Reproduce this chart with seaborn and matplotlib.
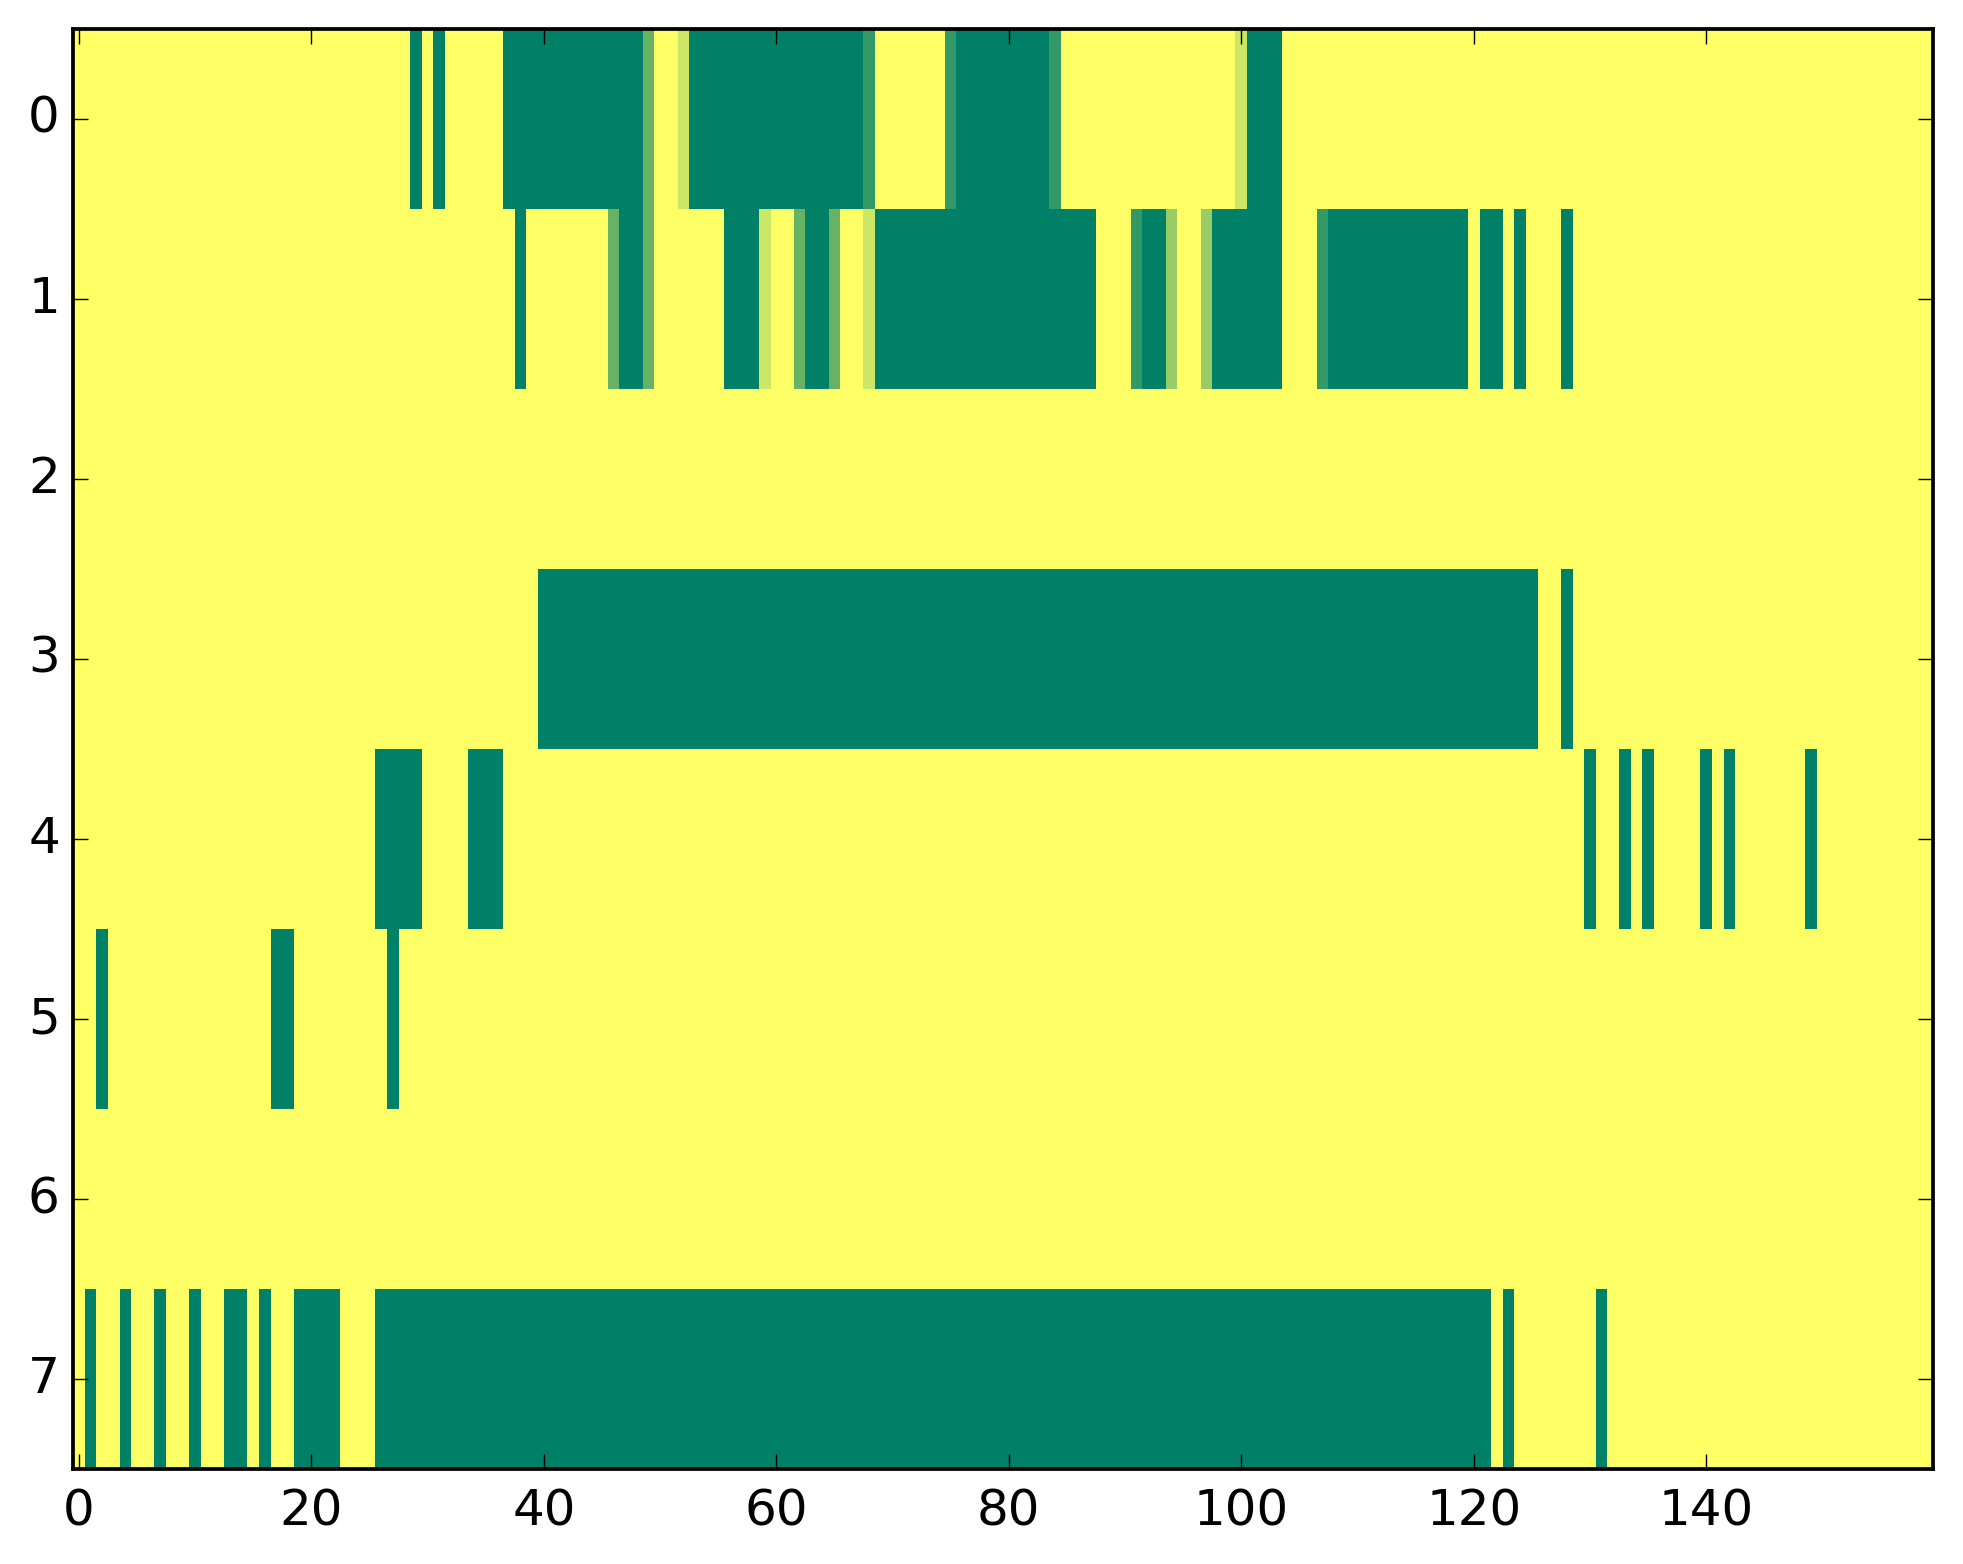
import numpy as np
import pandas as pd
import matplotlib
matplotlib.use('Agg')
import matplotlib.pyplot as plt
import seaborn as sns

N_ROWS = 8
N_COLS = 160

# runs of fully "on" cells (inclusive start, end) per row
row0_full = [(29, 29), (31, 31), (37, 48), (53, 67), (76, 83), (101, 103)]
row1_full = [(38, 38), (47, 48), (56, 58), (63, 64), (69, 87), (92, 93),
             (98, 103), (108, 119), (121, 122), (124, 124), (128, 128)]
row2_full = []
row3_full = [(40, 125), (128, 128)]
row4_full = [(26, 29), (34, 36), (130, 130), (133, 133), (135, 135),
             (140, 140), (142, 142), (149, 149)]
row5_full = [(2, 2), (17, 18), (27, 27)]
row6_full = []
row7_full = [(1, 1), (4, 4), (7, 7), (10, 10), (13, 14), (16, 16), (19, 22),
             (26, 121), (123, 123), (131, 131)]

# partially "on" cells
row0_part = {49: 0.6, 52: 0.2, 68: 0.8, 75: 0.8, 84: 0.8, 100: 0.2}
row1_part = {46: 0.6, 49: 0.6, 59: 0.2, 62: 0.6, 65: 0.6, 68: 0.2,
             91: 0.8, 94: 0.4, 97: 0.4, 107: 0.8}

full_runs = [row0_full, row1_full, row2_full, row3_full,
             row4_full, row5_full, row6_full, row7_full]
partials = {0: row0_part, 1: row1_part}

grid = np.zeros((N_ROWS, N_COLS))
for r, runs in enumerate(full_runs):
    for a, b in runs:
        grid[r, a:b + 1] = 1.0
for r, cells in partials.items():
    for c, v in cells.items():
        grid[r, c] = v

df = pd.DataFrame(grid)

fig = plt.figure(figsize=(19.63, 15.64), dpi=100)
ax = fig.add_axes([0.0372, 0.0607, 0.9475, 0.9208])

sns.heatmap(df, cmap='summer_r', vmin=0, vmax=1, cbar=False, ax=ax)

ax.set_xlim(0, N_COLS)
ax.set_ylim(N_ROWS, 0)

xt = np.arange(0, 141, 20)
ax.set_xticks(xt + 0.5)
ax.set_xticklabels([str(v) for v in xt], rotation=0)
yt = np.arange(N_ROWS)
ax.set_yticks(yt + 0.5)
ax.set_yticklabels([str(v) for v in yt], rotation=0)

for sp in ax.spines.values():
    sp.set_visible(True)
    sp.set_linewidth(2.7)
    sp.set_color('black')

ax.tick_params(axis='both', which='major', direction='in', length=11, width=1,
               top=True, right=True, labeltop=False, labelright=False,
               labelsize=36, colors='black')
ax.tick_params(axis='x', pad=13)
ax.tick_params(axis='y', pad=9.5)
ax.set_xlabel('')
ax.set_ylabel('')

plt.savefig('out.png', dpi=100)
